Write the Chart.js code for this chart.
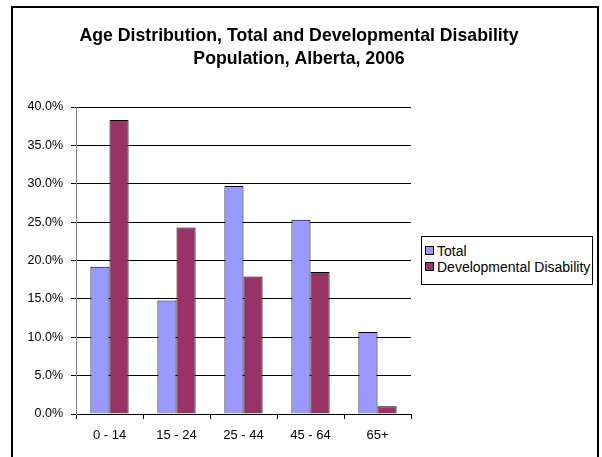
<!DOCTYPE html>
<html>
<head>
<meta charset="utf-8">
<title>Age Distribution, Alberta, 2006</title>
<script src="https://cdn.jsdelivr.net/npm/chart.js@4/dist/chart.umd.min.js"></script>
<style>
    body { margin: 0; background: #fff; }
    #wrap { position: relative; width: 602px; height: 457px; }
    #legend {
        position: absolute;
        left: 421px; top: 236px;
        width: 172px; height: 49px;
        box-sizing: border-box;
        border: 1px solid #000;
        background: #fff;
        font-family: "Liberation Sans", Arial, sans-serif;
        font-size: 14px;
        color: #000;
        padding: 6px 0 0 3px;
    }
    .item { height: 16px; line-height: 16px; white-space: nowrap; }
    .swatch {
        display: inline-block;
        width: 7px; height: 7px;
        border: 1px solid #000;
        margin-right: 3px;
        vertical-align: 1px;
    }
</style>
</head>
<body>
<div id="wrap">
    <canvas id="chart" width="602" height="457"></canvas>
    <div id="legend"></div>
</div>
<script>
// Data (share of population, %)
const ageGroups = ['0 - 14', '15 - 24', '25 - 44', '45 - 64', '65+'];
const totalPop = [19.2, 14.8, 29.7, 25.3, 10.7];
const devDisability = [38.3, 24.3, 17.9, 18.5, 1.0];
const yTicks = [0, 5, 10, 15, 20, 25, 30, 35, 40];

const titleLines = ['Age Distribution, Total and Developmental Disability', 'Population, Alberta, 2006'];
const seriesNames = ['Total', 'Developmental Disability'];
const seriesColors = ['#9999FF', '#993366'];

const font = "'Liberation Sans', Arial, sans-serif";

// white background, outer frame and a title centred on the whole frame
// (the built-in title would be squeezed by the right-hand padding)
const framePlugin = {
    id: 'frame',
    beforeDraw(chart) {
        const ctx = chart.ctx;
        ctx.save();
        ctx.fillStyle = '#fff';
        ctx.fillRect(0, 0, chart.width, chart.height);
        ctx.strokeStyle = '#000';
        ctx.lineWidth = 2;
        ctx.strokeRect(12, 7, 586, 460);
        ctx.restore();
    },
    afterDraw(chart) {
        const ctx = chart.ctx;
        ctx.save();
        ctx.fillStyle = '#000';
        ctx.font = 'bold 17.7px ' + font;
        ctx.textAlign = 'center';
        ctx.textBaseline = 'middle';
        titleLines.forEach((line, i) => {
            ctx.fillText(line, 299, 36 + i * 23);
        });
        ctx.restore();
    }
};

const chart = new Chart(document.getElementById('chart'), {
    type: 'bar',
    data: {
        labels: ageGroups,
        datasets: [
            {
                label: seriesNames[0],
                data: totalPop,
                backgroundColor: seriesColors[0],
                borderColor: '#000',
                borderWidth: 1
            },
            {
                label: seriesNames[1],
                data: devDisability,
                backgroundColor: seriesColors[1],
                borderColor: '#000',
                borderWidth: 1
            }
        ]
    },
    options: {
        responsive: false,
        animation: false,
        layout: { padding: { left: 16, right: 191, top: 107, bottom: 0 } },
        datasets: {
            bar: { categoryPercentage: 0.57, barPercentage: 1.0 }
        },
        plugins: {
            legend: { display: false },
            tooltip: { enabled: false },
            title: { display: false }
        },
        scales: {
            x: {
                grid: {
                    drawOnChartArea: false,
                    drawTicks: true,
                    tickLength: 5,
                    tickColor: '#000'
                },
                border: { color: '#000' },
                ticks: {
                    color: '#000',
                    font: { family: font, size: 13 },
                    padding: 9,
                    maxRotation: 0
                },
                afterFit(scale) { scale.height = 43; }
            },
            y: {
                min: yTicks[0],
                max: yTicks[yTicks.length - 1],
                afterBuildTicks(scale) {
                    scale.ticks = yTicks.map(v => ({ value: v }));
                },
                grid: {
                    color: '#000',
                    tickLength: 5,
                    tickColor: '#000'
                },
                border: { color: '#808080' },
                ticks: {
                    color: '#000',
                    font: { family: font, size: 12.5 },
                    padding: 8,
                    callback: v => v.toFixed(1) + '%'
                },
                afterFit(scale) { scale.width = 60; }
            }
        }
    },
    plugins: [framePlugin]
});

// legend box on the right, built from the datasets
const legend = document.getElementById('legend');
chart.data.datasets.forEach(ds => {
    const row = document.createElement('div');
    row.className = 'item';
    const sw = document.createElement('span');
    sw.className = 'swatch';
    sw.style.background = ds.backgroundColor;
    row.appendChild(sw);
    row.appendChild(document.createTextNode(ds.label));
    legend.appendChild(row);
});
</script>
</body>
</html>
